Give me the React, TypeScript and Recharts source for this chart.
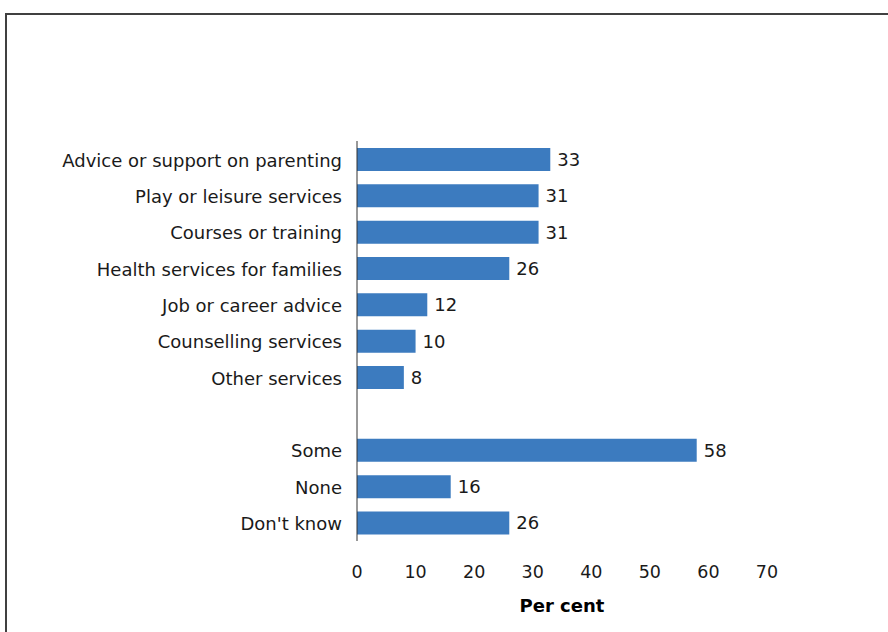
import React from 'react';
import { BarChart, Bar, XAxis, YAxis, LabelList } from 'recharts';

const categories = [
  'Advice or support on parenting',
  'Play or leisure services',
  'Courses or training',
  'Health services for families',
  'Job or career advice',
  'Counselling services',
  'Other services',
  '',
  'Some',
  'None',
  "Don't know",
];
const values: (number | null)[] = [33, 31, 31, 26, 12, 10, 8, null, 58, 16, 26];
const xTicks = [0, 10, 20, 30, 40, 50, 60, 70];

const data = categories.map((name, i) => ({ name, value: values[i] }));

const font = '"DejaVu Sans", Verdana, sans-serif';

export default function App() {
  return (
    <div style={{ position: 'absolute', left: 0, top: 0, width: 888, height: 632, overflow: 'hidden', background: '#fff' }}>
      {/* outer frame */}
      <div style={{ position: 'absolute', left: 5, top: 13, width: 900, height: 700, border: '2px solid #404040', boxSizing: 'border-box' }} />
      <div style={{ position: 'absolute', left: 0, top: 0 }}>
        <BarChart
          layout="vertical"
          width={888}
          height={632}
          data={data}
          margin={{ top: 141, right: 121, bottom: 0, left: 0 }}
          barCategoryGap="19%"
        >
          <XAxis
            type="number"
            domain={[0, 70]}
            ticks={xTicks}
            axisLine={false}
            tickLine={false}
            tick={{ fill: '#1a1a1a', fontSize: 17.5, fontFamily: font, dy: 17 }}
            height={91}
            label={{ value: 'Per cent', position: 'insideTop', dy: 53, fill: '#000', fontSize: 18, fontWeight: 'bold', fontFamily: font }}
          />
          <YAxis
            type="category"
            dataKey="name"
            width={357}
            axisLine={{ stroke: '#333', strokeWidth: 1 }}
            tickLine={false}
            interval={0}
            tickMargin={9}
            tick={{ fill: '#1a1a1a', fontSize: 18, fontFamily: font, dy: 1 }}
          />
          <Bar dataKey="value" fill="#3c7bbf" isAnimationActive={false}>
            <LabelList dataKey="value" position="right" offset={7} fill="#1a1a1a" fontSize={18} fontFamily={font} />
          </Bar>
        </BarChart>
      </div>
    </div>
  );
}
